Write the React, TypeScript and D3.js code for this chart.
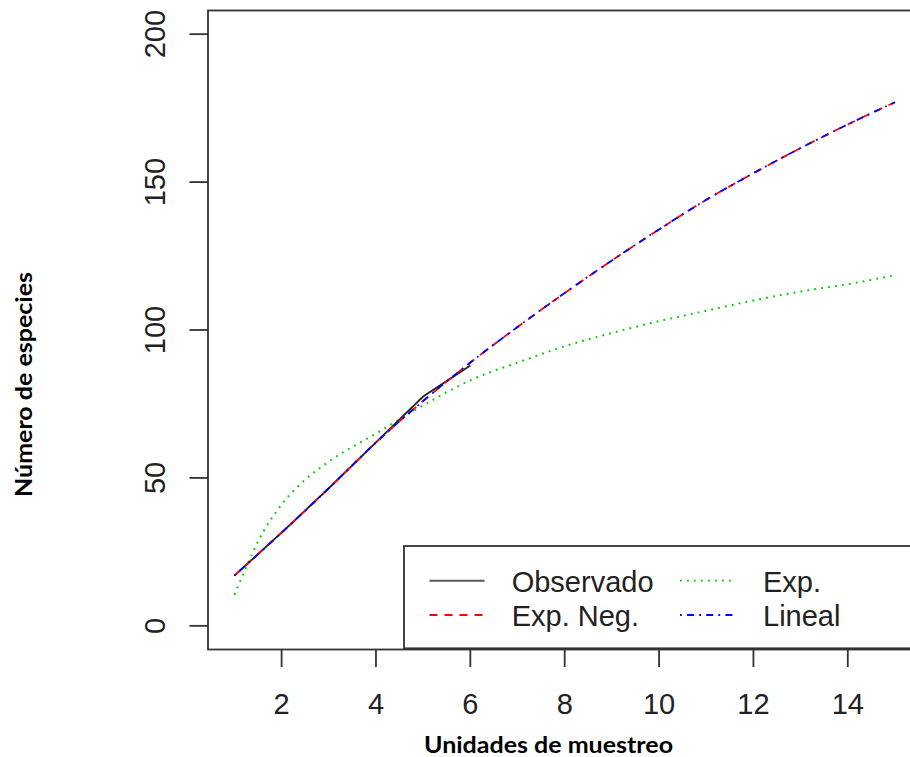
import React from "react";
import * as d3 from "d3";

const W = 910;
const H = 757;

// Data
const obsX = [1, 2, 3, 4, 5, 6];
const observado = [17, 31.5, 46.5, 62, 77.5, 88];

const fitX = [1, 2, 3, 4, 5, 6, 7, 8, 9, 10, 11, 12, 13, 14, 15];
const expNeg = [17, 31.5, 46.5, 62, 76, 89, 101, 112.5, 123.5, 134, 144, 153, 161.5, 169.5, 177];
const lineal = [17, 31.5, 46.5, 62, 76, 89, 101, 112.5, 123.5, 134, 144, 153, 161.5, 169.5, 177];

const expX = [1, 1.25, 1.5, 2, 2.5, 3, 4, 5, 6, 7, 8, 9, 10, 11, 12, 13, 14, 15];
const expV = [10.5, 19.8, 28.5, 41, 49.4, 55.5, 65, 74.5, 83, 89, 94.5, 99, 103, 106.5, 110, 113, 115.5, 118.5];

const xTicks = [2, 4, 6, 8, 10, 12, 14];
const yTicks = [0, 50, 100, 150, 200];

const legendItems = [
  { label: "Observado", color: "#222222", dash: "none", col: 0, row: 0 },
  { label: "Exp.", color: "#00CD00", dash: "1.8,5.2", col: 1, row: 0 },
  { label: "Exp. Neg.", color: "#FF0000", dash: "8,7", col: 0, row: 1 },
  { label: "Lineal", color: "#0000FF", dash: "1.8,5.2,7,5.2", col: 1, row: 1 },
];

export default function App() {
  const left = 208, right = 921.4, top = 10.5, bottom = 649.5;
  const x = d3.scaleLinear().domain([0.44, 15.56]).range([left, right]);
  const y = d3.scaleLinear().domain([-8, 208]).range([bottom, top]);

  const mk = (xs: number[], ys: number[], curve: any) =>
    d3
      .line<number>()
      .x((_, i) => x(xs[i]))
      .y((v) => y(v))
      .curve(curve)(ys) as string;

  const fontAxis = "'Liberation Sans', Arial, Helvetica, sans-serif";
  const fontTitle = "Lato, 'Open Sans', sans-serif";

  const legLeft = 404, legTop = 546, legBottom = 648.3;
  const colLineX = [429.5, 680];
  const colTextX = [511.7, 763];
  const rowY = [580.7, 615];

  return (
    <svg
      width={W}
      height={H}
      style={{ position: "absolute", left: 0, top: 0, background: "#fff" }}
    >
      <rect x={0} y={0} width={W} height={H} fill="#fff" />
      {/* curves */}
      <path d={mk(expX, expV, d3.curveMonotoneX)} fill="none" stroke="#00CD00" strokeWidth={2} strokeDasharray="1.8,5.2" />
      <path d={mk(obsX, observado, d3.curveLinear)} fill="none" stroke="#222" strokeWidth={1.8} />
      <path d={mk(fitX, expNeg, d3.curveMonotoneX)} fill="none" stroke="#FF0000" strokeWidth={1.8} strokeDasharray="8,7" />
      <path d={mk(fitX, lineal, d3.curveMonotoneX)} fill="none" stroke="#0000FF" strokeWidth={1.8} strokeDasharray="1.8,5.2,7,5.2" />

      {/* legend */}
      <rect x={legLeft} y={legTop} width={right - legLeft} height={legBottom - legTop} fill="#fff" stroke="#333" strokeWidth={1.8} />
      {legendItems.map((it) => (
        <g key={it.label}>
          <line
            x1={colLineX[it.col]}
            x2={colLineX[it.col] + 55}
            y1={rowY[it.row]}
            y2={rowY[it.row]}
            stroke={it.color}
            strokeWidth={it.col === 0 && it.row === 0 ? 2 : 1.8}
            strokeOpacity={it.col === 0 && it.row === 0 ? 0.75 : 1}
            strokeDasharray={it.dash}
          />
          <text
            x={colTextX[it.col]}
            y={rowY[it.row] + 11}
            fontFamily={fontAxis}
            fontSize={29}
            fill="#222"
          >
            {it.label}
          </text>
        </g>
      ))}

      {/* frame */}
      <rect x={left} y={top} width={right - left} height={bottom - top} fill="none" stroke="#333" strokeWidth={1.8} />

      {/* x axis ticks */}
      {xTicks.map((t) => (
        <g key={"x" + t}>
          <line x1={x(t)} x2={x(t)} y1={bottom} y2={bottom + 17.5} stroke="#333" strokeWidth={1.8} />
          <text x={x(t)} y={714} textAnchor="middle" fontFamily={fontAxis} fontSize={29} fill="#222">
            {t}
          </text>
        </g>
      ))}

      {/* y axis ticks */}
      {yTicks.map((t) => (
        <g key={"y" + t}>
          <line x1={left - 18.5} x2={left} y1={y(t)} y2={y(t)} stroke="#333" strokeWidth={1.8} />
          <text
            transform={`translate(${164.5},${y(t)}) rotate(-90)`}
            textAnchor="middle"
            fontFamily={fontAxis}
            fontSize={29}
            fill="#222"
          >
            {t}
          </text>
        </g>
      ))}

      {/* axis titles */}
      <text
        x={548.5}
        y={753}
        textAnchor="middle"
        fontFamily={fontTitle}
        fontWeight="bold"
        fontSize={22.5}
        fill="#000"
        textLength={249}
        lengthAdjust="spacingAndGlyphs"
      >
        Unidades de muestreo
      </text>
      <text
        transform={`translate(${31.5},${384.5}) rotate(-90)`}
        textAnchor="middle"
        fontFamily={fontTitle}
        fontWeight="bold"
        fontSize={22.5}
        fill="#000"
        textLength={225}
        lengthAdjust="spacingAndGlyphs"
      >
        Número de especies
      </text>
    </svg>
  );
}
